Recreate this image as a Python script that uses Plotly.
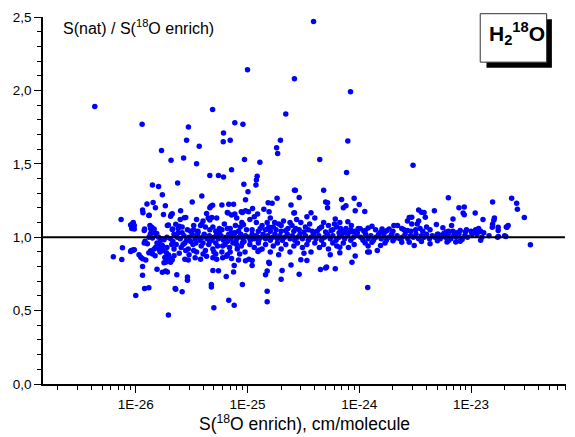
import plotly.graph_objects as go

# (S(18O enrich) in cm/molecule, S(nat)/S(18O enrich)), grouped by x range
pts_below_1e26 = [
    (4.3e-27, 1.89), (6.3e-27, 0.867), (7.4e-27, 1.12), (7.5e-27, 0.848), (7.6e-27, 0.928),
    (9.0e-27, 0.903), (9.1e-27, 0.909), (9.3e-27, 0.909), (9.5e-27, 0.912), (9.7e-27, 0.914),
    (9.0e-27, 1.083), (9.2e-27, 1.06), (9.3e-27, 1.09), (9.5e-27, 1.10), (9.7e-27, 1.08),
    (9.7e-27, 1.056),
]

pts_1e26_2e26 = [
    (1.0e-26, 0.603), (1.07e-26, 0.88), (1.11e-26, 0.864), (1.14e-26, 1.77), (1.15e-26, 1.185),
    (1.16e-26, 1.167), (1.15e-26, 0.853), (1.15e-26, 0.80), (1.15e-26, 0.74), (1.19e-26, 1.045),
    (1.19e-26, 0.96), (1.2e-26, 1.056), (1.2e-26, 0.65), (1.21e-26, 0.973), (1.23e-26, 0.844),
    (1.26e-26, 1.227), (1.27e-26, 0.955), (1.31e-26, 1.148), (1.31e-26, 1.0), (1.31e-26, 0.894),
    (1.31e-26, 0.655), (1.32e-26, 1.15), (1.34e-26, 1.08), (1.35e-26, 1.02), (1.36e-26, 1.06),
    (1.36e-26, 0.907), (1.38e-26, 1.038), (1.39e-26, 1.067), (1.41e-26, 1.355), (1.41e-26, 0.995),
    (1.41e-26, 0.887), (1.43e-26, 1.237), (1.43e-26, 1.034), (1.44e-26, 1.045), (1.46e-26, 1.056),
    (1.46e-26, 0.92), (1.49e-26, 0.873), (1.5e-26, 1.20), (1.51e-26, 0.932), (1.53e-26, 1.016),
    (1.54e-26, 1.026), (1.55e-26, 0.781), (1.55e-26, 0.96), (1.6e-26, 1.345), (1.6e-26, 1.0),
    (1.62e-26, 0.916), (1.64e-26, 0.951), (1.65e-26, 0.9), (1.67e-26, 0.977), (1.7e-26, 1.59),
    (1.7e-26, 0.99), (1.73e-26, 1.29), (1.73e-26, 0.944), (1.73e-26, 0.761), (1.75e-26, 0.91),
    (1.77e-26, 1.155), (1.79e-26, 0.982), (1.79e-26, 0.826), (1.82e-26, 0.862), (1.84e-26, 1.215),
    (1.85e-26, 0.83), (1.85e-26, 0.77), (1.88e-26, 0.894), (1.9e-26, 1.0), (1.9e-26, 0.93),
    (1.92e-26, 1.08), (1.92e-26, 0.842), (1.92e-26, 0.763), (1.96e-26, 1.083), (1.96e-26, 0.88),
    (1.96e-26, 0.47), (2.0e-26, 0.858), (2.05e-26, 1.142), (2.05e-26, 0.99), (2.05e-26, 0.83),
    (2.07e-26, 1.525), (2.08e-26, 1.155), (2.1e-26, 0.95), (2.12e-26, 1.16), (2.12e-26, 1.053),
    (2.12e-26, 0.846), (2.14e-26, 1.056), (2.15e-26, 0.97), (2.2e-26, 0.92), (2.2e-26, 0.874),
    (2.2e-26, 1.02),
]

pts_2e26_1e25 = [
    (2.25e-26, 0.65), (2.28e-26, 1.088), (2.28e-26, 0.645), (2.33e-26, 0.745), (2.37e-26, 1.37),
    (2.4e-26, 1.03), (2.44e-26, 1.075), (2.45e-26, 0.89), (2.52e-26, 1.18), (2.6e-26, 1.07),
    (2.6e-26, 0.628), (2.68e-26, 1.54), (2.72e-26, 1.133), (2.75e-26, 0.85), (2.8e-26, 1.135),
    (2.8e-26, 0.91), (2.85e-26, 1.66), (2.9e-26, 1.05), (2.9e-26, 0.729), (2.9e-26, 0.706),
    (2.95e-26, 0.845), (2.96e-26, 1.75), (3.1e-26, 1.04), (3.2e-26, 1.24), (3.3e-26, 1.05),
    (3.4e-26, 0.86), (3.5e-26, 1.50), (3.6e-26, 1.04), (3.7e-26, 1.62), (3.8e-26, 1.08),
    (3.8e-26, 0.85), (3.9e-26, 1.28), (3.9e-26, 1.09), (4.0e-26, 1.11), (4.2e-26, 1.07),
    (4.3e-26, 1.162), (4.3e-26, 0.87), (4.45e-26, 1.13), (4.6e-26, 1.42), (4.6e-26, 1.20),
    (4.6e-26, 1.117), (4.6e-26, 1.05), (4.7e-26, 1.21), (4.75e-26, 0.677), (4.75e-26, 0.661),
    (4.8e-26, 1.135), (4.87e-26, 1.87), (4.87e-26, 1.217), (4.9e-26, 0.774), (4.9e-26, 0.86),
    (5.0e-26, 0.519), (5.2e-26, 1.04), (5.3e-26, 0.85), (5.5e-26, 1.42), (5.5e-26, 0.772),
    (5.6e-26, 1.06), (5.9e-26, 1.22), (6.0e-26, 0.86), (6.07e-26, 1.65), (6.1e-26, 1.71),
    (6.1e-26, 1.41), (6.2e-26, 1.09), (6.45e-26, 0.733), (6.5e-26, 0.87), (6.6e-26, 1.169),
    (6.6e-26, 1.06), (6.7e-26, 1.164), (6.8e-26, 1.225), (6.8e-26, 0.571), (7.0e-26, 1.66),
    (7.2e-26, 1.46), (7.2e-26, 1.151), (7.2e-26, 1.03), (7.2e-26, 0.855), (7.5e-26, 1.225),
    (7.5e-26, 0.763), (7.6e-26, 0.808), (7.6e-26, 0.537), (7.7e-26, 1.78), (7.7e-26, 1.158),
    (7.8e-26, 1.08), (8.3e-26, 1.04), (8.3e-26, 0.845), (8.8e-26, 1.173), (8.9e-26, 1.1),
    (9.0e-26, 1.169), (9.0e-26, 0.677), (9.1e-26, 1.77), (9.2e-26, 1.085), (9.27e-26, 1.36),
    (9.4e-26, 1.53), (9.6e-26, 1.255), (9.6e-26, 1.18), (9.6e-26, 0.84), (9.8e-26, 1.05),
    (2.35e-26, 1.0), (2.5e-26, 0.99), (2.7e-26, 1.01), (2.85e-26, 0.98), (3.0e-26, 1.0),
    (3.2e-26, 1.02), (3.4e-26, 0.99), (3.55e-26, 1.01), (3.75e-26, 0.98), (3.95e-26, 1.0),
    (4.1e-26, 1.02), (4.35e-26, 0.99), (4.55e-26, 1.01), (4.8e-26, 0.98), (5.0e-26, 1.0),
    (5.3e-26, 1.02), (5.5e-26, 0.99), (5.8e-26, 1.01), (6.1e-26, 0.98), (6.4e-26, 1.0),
    (6.8e-26, 1.02), (7.1e-26, 0.99), (7.5e-26, 1.01), (7.9e-26, 0.98), (8.3e-26, 1.0),
    (8.7e-26, 1.02), (9.1e-26, 0.99), (9.6e-26, 1.01), (2.6e-26, 1.03), (3.1e-26, 0.97),
    (3.6e-26, 1.03), (4.6e-26, 0.97), (5.6e-26, 1.03), (6.6e-26, 0.97), (7.7e-26, 1.03),
    (9.3e-26, 0.97), (2.3e-26, 0.95), (2.55e-26, 0.93), (2.75e-26, 0.96), (2.95e-26, 0.92),
    (3.25e-26, 0.95), (3.5e-26, 0.9), (3.85e-26, 0.94), (4.2e-26, 0.91), (4.5e-26, 0.95),
    (4.9e-26, 0.92), (5.4e-26, 0.94), (5.9e-26, 0.9), (6.3e-26, 0.95), (6.9e-26, 0.93),
    (7.4e-26, 0.96), (8.1e-26, 0.92), (8.8e-26, 0.94), (9.5e-26, 0.9), (3.0e-26, 0.88),
    (4.0e-26, 0.885), (5.2e-26, 0.885), (6.6e-26, 0.88), (8.5e-26, 0.885), (2.4e-26, 1.06),
    (3.3e-26, 1.08), (4.9e-26, 1.07), (5.9e-26, 1.05), (7.0e-26, 1.06), (8.6e-26, 1.07),
    (2.65e-26, 0.95), (3.45e-26, 0.96), (4.0e-26, 0.96), (5.2e-26, 0.96), (6.0e-26, 0.94),
    (8.0e-26, 0.95), (9.0e-26, 0.96), (3.3e-26, 0.91), (5.0e-26, 0.9), (7.0e-26, 0.9),
    (2.5e-26, 1.12), (3.5e-26, 1.12), (5.3e-26, 1.13), (8.0e-26, 1.13),
]

pts_1e25_1e24 = [
    (1.0e-25, 2.14), (1.01e-25, 1.31), (1.02e-25, 1.173), (1.05e-25, 1.12), (1.1e-25, 1.05),
    (1.11e-25, 1.195), (1.19e-25, 1.355), (1.2e-25, 1.39), (1.2e-25, 1.10), (1.22e-25, 1.415),
    (1.23e-25, 1.158), (1.25e-25, 1.04), (1.29e-25, 1.51), (1.35e-25, 1.08), (1.4e-25, 1.19),
    (1.45e-25, 1.05), (1.5e-25, 1.1), (1.53e-25, 1.235), (1.56e-25, 1.173), (1.6e-25, 1.04),
    (1.66e-25, 1.232), (1.7e-25, 1.07), (1.8e-25, 1.05), (1.82e-25, 1.61), (1.84e-25, 1.265),
    (1.86e-25, 1.57), (1.9e-25, 1.09), (1.97e-25, 1.66), (2.0e-25, 1.04), (2.1e-25, 1.11),
    (2.2e-25, 1.84), (2.2e-25, 1.045), (2.3e-25, 1.06), (2.45e-25, 1.22), (2.5e-25, 1.08),
    (2.6e-25, 1.164), (2.6e-25, 1.04), (2.63e-25, 2.08), (2.63e-25, 1.32), (2.63e-25, 1.166),
    (2.68e-25, 1.32), (2.75e-25, 1.12), (2.9e-25, 1.27), (2.9e-25, 1.05), (3.0e-25, 1.1),
    (3.2e-25, 1.035), (3.3e-25, 1.07), (3.6e-25, 1.09), (3.7e-25, 1.166), (3.8e-25, 1.04),
    (3.9e-25, 2.47), (4.0e-25, 1.13), (4.2e-25, 1.04), (4.4e-25, 1.06), (4.43e-25, 1.53),
    (4.8e-25, 1.32), (4.8e-25, 1.1), (5.0e-25, 1.24), (5.0e-25, 1.035), (5.2e-25, 1.235),
    (5.2e-25, 1.20), (5.3e-25, 1.08), (5.6e-25, 1.045), (5.8e-25, 1.05), (6.1e-25, 1.124),
    (6.3e-25, 1.07), (6.6e-25, 1.03), (6.95e-25, 1.257), (7.0e-25, 1.04), (7.2e-25, 1.20),
    (7.3e-25, 1.03), (7.6e-25, 1.215), (7.6e-25, 1.06), (7.7e-25, 1.44), (7.9e-25, 1.655),
    (7.9e-25, 1.105), (8.0e-25, 1.03), (8.35e-25, 1.99), (8.4e-25, 1.05), (8.8e-25, 1.035),
    (9.0e-25, 1.266), (9.2e-25, 1.18), (9.2e-25, 1.04), (9.6e-25, 1.03),
    (1.03e-25, 0.85), (1.1e-25, 0.842), (1.1e-25, 0.808), (1.24e-25, 0.902), (1.28e-25, 0.913),
    (1.45e-25, 0.745), (1.5e-25, 0.77), (1.5e-25, 0.632), (1.5e-25, 0.56), (1.55e-25, 0.83),
    (1.57e-25, 0.82), (2.0e-25, 0.713), (2.04e-25, 0.774), (2.45e-25, 0.81), (2.9e-25, 0.747),
    (3.0e-25, 0.846), (3.4e-25, 0.842), (4.5e-25, 0.78), (5.0e-25, 0.79), (5.1e-25, 0.797),
    (6.1e-25, 0.785), (6.7e-25, 0.932), (6.7e-25, 0.894), (8.6e-25, 0.83), (9.2e-25, 0.872),
    (1.02e-25, 1.0), (1.06e-25, 0.98), (1.1e-25, 1.02), (1.15e-25, 0.99), (1.2e-25, 1.01),
    (1.26e-25, 0.98), (1.32e-25, 1.0), (1.38e-25, 1.02), (1.45e-25, 0.99), (1.52e-25, 1.01),
    (1.6e-25, 0.98), (1.68e-25, 1.0), (1.76e-25, 1.02), (1.85e-25, 0.99), (1.95e-25, 1.01),
    (2.05e-25, 0.98), (2.15e-25, 1.0), (2.27e-25, 1.02), (2.4e-25, 0.99), (2.52e-25, 1.01),
    (2.65e-25, 0.98), (2.8e-25, 1.0), (2.95e-25, 1.02), (3.1e-25, 0.99), (3.3e-25, 1.01),
    (3.5e-25, 0.98), (3.7e-25, 1.0), (3.9e-25, 1.02), (4.1e-25, 0.99), (4.35e-25, 1.01),
    (4.6e-25, 0.98), (4.9e-25, 1.0), (5.2e-25, 1.02), (5.5e-25, 0.99), (5.8e-25, 1.01),
    (6.2e-25, 0.98), (6.6e-25, 1.0), (7.0e-25, 1.02), (7.4e-25, 0.99), (7.9e-25, 1.01),
    (8.4e-25, 0.98), (8.9e-25, 1.0), (9.5e-25, 1.02),
    (1.05e-25, 0.95), (1.15e-25, 0.93), (1.25e-25, 0.96), (1.35e-25, 0.92), (1.45e-25, 0.95),
    (1.6e-25, 0.9), (1.7e-25, 0.94), (1.85e-25, 0.96), (2.0e-25, 0.92), (2.2e-25, 0.95),
    (2.4e-25, 0.9), (2.6e-25, 0.94), (2.8e-25, 0.96), (3.1e-25, 0.93), (3.4e-25, 0.95),
    (3.7e-25, 0.9), (4.0e-25, 0.96), (4.4e-25, 0.93), (4.8e-25, 0.95), (5.3e-25, 0.92),
    (5.8e-25, 0.96), (6.3e-25, 0.94), (7.2e-25, 0.96), (8.0e-25, 0.93), (9.0e-25, 0.95),
    (1.9e-25, 0.88), (3.2e-25, 0.89), (5.5e-25, 0.88),
    (1.3e-25, 1.06), (1.55e-25, 1.07), (1.75e-25, 1.1), (2.0e-25, 1.08), (2.4e-25, 1.1),
    (2.7e-25, 1.06), (3.5e-25, 1.05), (4.6e-25, 1.07), (6.0e-25, 1.09), (6.8e-25, 1.06),
    (8.5e-25, 1.08), (9.8e-25, 1.06), (1.15e-25, 1.14), (1.6e-25, 1.13), (3.4e-25, 1.14),
    (6.7e-25, 1.10),
]

pts_1e24_1e23 = [
    (1.0e-24, 1.223), (1.12e-24, 1.175), (1.3e-24, 1.075), (1.6e-24, 1.056), (1.85e-24, 1.056),
    (2.2e-24, 1.08), (2.5e-24, 1.053), (2.7e-24, 1.045), (2.7e-24, 1.11), (2.95e-24, 1.136),
    (3.03e-24, 1.49), (3.3e-24, 1.09), (3.4e-24, 1.185), (3.4e-24, 1.11), (3.5e-24, 1.06),
    (3.6e-24, 1.17), (3.8e-24, 1.168), (3.9e-24, 1.136), (4.0e-24, 1.07), (4.7e-24, 1.18),
    (4.9e-24, 1.087), (5.6e-24, 1.065), (6.27e-24, 1.268), (6.7e-24, 1.08), (6.9e-24, 1.124),
    (7.8e-24, 1.2), (8.5e-24, 1.165), (8.7e-24, 1.205), (8.7e-24, 1.153), (9.1e-24, 1.05),
    (6.0e-24, 1.035), (2.8e-24, 1.135), (2.95e-24, 1.09), (1.02e-24, 1.058), (1.13e-24, 1.045),
    (1.2e-24, 1.063), (1.55e-24, 1.034), (1.77e-24, 1.045), (2.04e-24, 1.08),
    (1.03e-24, 1.0), (1.08e-24, 0.98), (1.14e-24, 1.02), (1.2e-24, 0.99), (1.27e-24, 1.01),
    (1.34e-24, 0.98), (1.41e-24, 1.0), (1.49e-24, 1.02), (1.57e-24, 0.99), (1.66e-24, 1.01),
    (1.75e-24, 0.98), (1.85e-24, 1.0), (1.95e-24, 1.02), (2.06e-24, 0.99), (2.18e-24, 1.01),
    (2.3e-24, 0.99), (2.43e-24, 1.0), (2.57e-24, 1.02), (2.72e-24, 0.99), (2.88e-24, 1.01),
    (3.05e-24, 1.0), (3.22e-24, 1.02), (3.4e-24, 0.99), (3.6e-24, 1.01), (3.8e-24, 1.0),
    (4.0e-24, 1.02), (4.25e-24, 0.99), (4.5e-24, 1.01), (4.75e-24, 1.0), (5.0e-24, 1.02),
    (5.3e-24, 0.99), (5.6e-24, 1.01), (5.9e-24, 1.0), (6.25e-24, 1.02), (6.6e-24, 0.99),
    (7.0e-24, 1.01), (7.4e-24, 1.0), (7.8e-24, 1.02), (8.3e-24, 0.99), (8.8e-24, 1.01),
    (9.3e-24, 1.0),
    (1.1e-24, 1.04), (1.4e-24, 1.05), (1.7e-24, 1.035), (2.0e-24, 1.04), (2.4e-24, 1.06),
    (2.9e-24, 1.04), (3.2e-24, 1.05), (3.7e-24, 1.04), (4.3e-24, 1.05), (5.1e-24, 1.02),
    (5.7e-24, 1.026), (6.3e-24, 1.04), (6.9e-24, 1.04), (7.5e-24, 1.03), (8.0e-24, 1.045),
    (8.9e-24, 1.035),
    (1.13e-24, 0.96), (1.2e-24, 0.94), (1.19e-24, 0.9), (1.23e-24, 0.9), (1.45e-24, 0.909),
    (1.55e-24, 0.944), (1.19e-24, 0.657), (1.3e-24, 0.965), (1.7e-24, 0.96), (2.0e-24, 0.975),
    (2.4e-24, 0.965), (2.8e-24, 0.966), (3.1e-24, 0.944), (3.6e-24, 0.97), (4.3e-24, 0.955),
    (5.0e-24, 0.975), (6.1e-24, 0.967), (6.3e-24, 0.977), (7.3e-24, 0.967), (8.0e-24, 0.973),
    (8.3e-24, 0.985),
]

pts_above_1e23 = [
    (1.0e-23, 1.04), (1.02e-23, 1.02), (1.09e-23, 1.164), (1.09e-23, 1.04), (1.16e-23, 1.05),
    (1.22e-23, 1.04), (1.22e-23, 0.98), (1.28e-23, 1.12), (1.3e-23, 1.03), (1.1e-23, 1.05),
    (1.17e-23, 1.06), (1.2e-23, 1.04), (1.25e-23, 1.0), (1.13e-23, 1.02), (1.45e-23, 1.01),
    (1.55e-23, 1.067), (1.56e-23, 1.088), (1.56e-23, 1.24), (1.6e-23, 1.115), (1.62e-23, 1.13),
    (1.73e-23, 1.0), (1.75e-23, 1.067), (1.75e-23, 1.045), (1.76e-23, 1.005), (2.0e-23, 1.01),
    (2.05e-23, 1.005), (2.07e-23, 1.07), (2.1e-23, 1.067), (2.15e-23, 1.08), (2.31e-23, 1.266),
    (2.56e-23, 1.232), (2.6e-23, 1.19), (3.0e-23, 1.135), (3.4e-23, 0.948),
]

points = (pts_below_1e26 + pts_1e26_2e26 + pts_2e26_1e25
          + pts_1e25_1e24 + pts_1e24_1e23 + pts_above_1e23)
s_enrich = [p[0] for p in points]
ratio = [p[1] for p in points]

x_tick_vals = [1e-26, 1e-25, 1e-24, 1e-23]
x_tick_text = ["1E-26", "1E-25", "1E-24", "1E-23"]
x_minor_vals = [m * 10.0 ** d for d in range(-27, -22) for m in range(2, 10)]
y_tick_vals = [0, 0.5, 1.0, 1.5, 2.0, 2.5]

fig = go.Figure()
fig.add_trace(go.Scatter(
    x=s_enrich, y=ratio,
    mode="markers",
    marker=dict(color="#0000ff", size=5.5, line_width=0),
    hoverinfo="x+y"))

# reference line at ratio = 1
fig.add_shape(type="line", xref="paper", yref="y", x0=0, x1=0.998, y0=1, y1=1,
              line=dict(color="black", width=2))

# shadowed label box
fig.add_shape(type="rect", xref="paper", yref="paper", x0=0.848, x1=0.973, y0=0.862, y1=0.994,
              fillcolor="black", line_width=0)
fig.add_shape(type="rect", xref="paper", yref="paper", x0=0.836, x1=0.963, y0=0.877, y1=1.009,
              fillcolor="white", line=dict(color="#333333", width=1))
fig.add_annotation(xref="paper", yref="paper", x=0.849, y=1.0, xanchor="left", showarrow=False,
                   text="<b>H<sub>2</sub><sup>18</sup>O</b>",
                   font=dict(size=21, color="black"))

fig.add_annotation(xref="paper", yref="paper", x=0.034, y=1.005, xanchor="left", showarrow=False,
                   text="S(nat) / S(<sup>18</sup>O enrich)",
                   font=dict(size=16, color="black"))

fig.update_layout(
    width=575, height=437,
    margin=dict(l=43, r=9, t=17, b=51),
    paper_bgcolor="white", plot_bgcolor="white",
    showlegend=False,
    separators=",.",
    font=dict(family="Liberation Sans, Arial, sans-serif", color="black"),
    xaxis=dict(
        type="log", range=[-26.83, -22.15],
        tickmode="array", tickvals=x_tick_vals, ticktext=x_tick_text,
        ticks="outside", ticklen=7, tickwidth=1.2, tickcolor="black",
        minor=dict(tickmode="array", tickvals=x_minor_vals, ticks="outside",
                   ticklen=4, tickwidth=1, tickcolor="black"),
        showline=True, linecolor="black", linewidth=1.5,
        showgrid=False, zeroline=False,
        tickfont=dict(size=13.5),
        title=dict(text="S(<sup>18</sup>O enrich), cm/molecule", font=dict(size=17.5), standoff=4),
    ),
    yaxis=dict(
        range=[0, 2.5],
        tickmode="array", tickvals=y_tick_vals, tickformat=".1f",
        ticks="outside", ticklen=7, tickwidth=1.2, tickcolor="black",
        minor=dict(dtick=0.1, ticks="outside", ticklen=4, tickwidth=1, tickcolor="black"),
        showline=True, linecolor="black", linewidth=1.5,
        showgrid=False, zeroline=False,
        tickfont=dict(size=13.5),
    ),
)

fig.write_html("out.html", config={"displayModeBar": False},
               post_script="document.body.style.margin='0px';")
